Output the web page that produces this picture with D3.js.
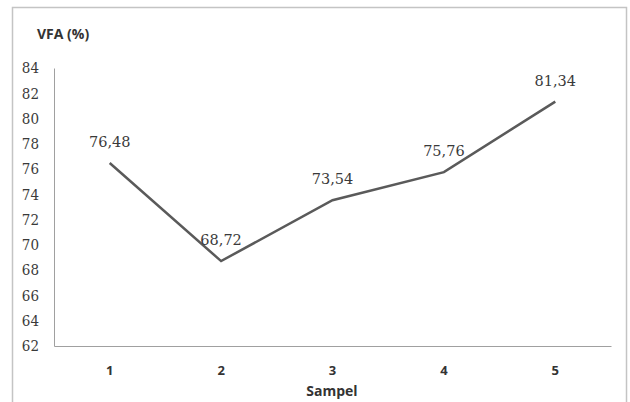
<!DOCTYPE html>
<html><head><meta charset="utf-8">
<script src="https://cdn.jsdelivr.net/npm/d3@7"></script>
<style>body{margin:0;background:#fff}svg{display:block}</style>
</head><body>
<svg id="c" width="630" height="402"></svg>
<script>
const categories = ["1","2","3","4","5"];
const values = [76.48, 68.72, 73.54, 75.76, 81.34];
const valueLabels = ["76,48","68,72","73,54","75,76","81,34"];
const yTicks = [62,64,66,68,70,72,74,76,78,80,82,84];

(function(){
const svg = d3.select("#c");
svg.append("rect").attr("x",12.5).attr("y",7.5).attr("width",614).attr("height",400)
  .attr("fill","#fff").attr("stroke","#c4c4c4").attr("stroke-width",1.5);

const mL=54, mR=611, mT=68, mB=346;
const x = d3.scaleBand().domain(categories).range([mL,mR]);
const y = d3.scaleLinear().domain([62,84]).range([mB,mT]);

const ya = svg.append("g").attr("transform",`translate(${mL},0)`)
  .call(d3.axisLeft(y).tickValues(yTicks).tickSize(0).tickPadding(15));
ya.select(".domain").attr("stroke","#a0a0a0").attr("stroke-width",1);
ya.selectAll("text").attr("font-family","DejaVu Serif Condensed, DejaVu Serif, serif").attr("font-size",15).attr("fill","#3a3a3a");

const xa = svg.append("g").attr("transform",`translate(0,${mB})`)
  .call(d3.axisBottom(x).tickSize(0).tickPadding(20));
xa.select(".domain").attr("stroke","#a0a0a0").attr("stroke-width",1);
xa.selectAll("text").attr("font-family","Open Sans, sans-serif").attr("font-weight","bold").attr("font-size",13).attr("fill","#333");

const cx = d => x(d) + x.bandwidth()/2;
const line = d3.line().x((d,i)=>cx(categories[i])).y(d=>y(d));
svg.append("path").datum(values).attr("d",line).attr("fill","none")
  .attr("stroke","#5a5a5a").attr("stroke-width",2.5);

svg.selectAll(".lbl").data(values).enter().append("text")
  .attr("x",(d,i)=>cx(categories[i])).attr("y",d=>y(d)-16)
  .attr("text-anchor","middle").attr("font-family","DejaVu Serif, serif")
  .attr("font-size",14.5).attr("fill","#3a3a3a").text((d,i)=>valueLabels[i]);

svg.append("text").attr("x",37).attr("y",39).attr("font-family","Open Sans, sans-serif")
  .attr("font-weight","bold").attr("font-size",14).attr("fill","#333").text("VFA (%)");
svg.append("text").attr("x",332).attr("y",396).attr("text-anchor","middle")
  .attr("font-family","Open Sans, sans-serif").attr("font-weight","bold")
  .attr("font-size",14).attr("fill","#333").text("Sampel");
})();
</script>
</body></html>
